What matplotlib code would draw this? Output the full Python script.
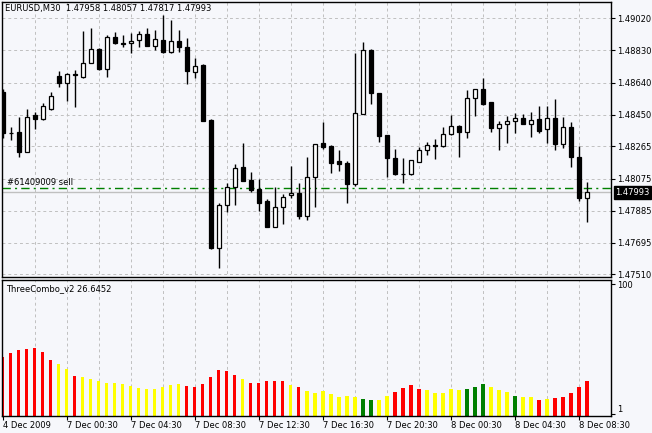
import matplotlib
matplotlib.use("Agg")
import matplotlib.pyplot as plt
import numpy as np

# EURUSD M30 candles
opens = [1.48588, 1.48345, 1.48351, 1.48233, 1.48450, 1.48424, 1.48485, 1.48678, 1.48641, 1.48689,
         1.48676, 1.48755, 1.48837, 1.48719, 1.48908, 1.48873, 1.48873, 1.48892, 1.48930, 1.48857,
         1.48892, 1.48821, 1.48884, 1.48849, 1.48705, 1.48745, 1.48420, 1.47663, 1.47919, 1.48027,
         1.48145, 1.48066, 1.48013, 1.47942, 1.47791, 1.47905, 1.47976, 1.47988, 1.47856, 1.48082,
         1.48283, 1.48267, 1.48178, 1.48165, 1.48041, 1.48454, 1.48833, 1.48578, 1.48331, 1.48194,
         1.48102, 1.48102, 1.48174, 1.48243, 1.48273, 1.48269, 1.48335, 1.48385, 1.48351, 1.48548,
         1.48602, 1.48525, 1.48371, 1.48395, 1.48414, 1.48430, 1.48395, 1.48426, 1.48365, 1.48430,
         1.48277, 1.48377, 1.48204, 1.47958]
highs = [1.48600, 1.48381, 1.48438, 1.48485, 1.48467, 1.48520, 1.48585, 1.48709, 1.48700, 1.48715,
         1.48947, 1.48963, 1.48842, 1.48924, 1.48942, 1.48922, 1.48933, 1.48945, 1.48960, 1.48951,
         1.49037, 1.49007, 1.48948, 1.48902, 1.48784, 1.48748, 1.48423, 1.47931, 1.48050, 1.48161,
         1.48283, 1.48112, 1.48072, 1.47952, 1.48027, 1.47982, 1.48151, 1.48047, 1.48204, 1.48279,
         1.48408, 1.48270, 1.48243, 1.48178, 1.48817, 1.48878, 1.48836, 1.48579, 1.48332, 1.48247,
         1.48194, 1.48187, 1.48258, 1.48292, 1.48308, 1.48379, 1.48450, 1.48388, 1.48597, 1.48603,
         1.48666, 1.48526, 1.48413, 1.48441, 1.48460, 1.48454, 1.48466, 1.48503, 1.48503, 1.48542,
         1.48436, 1.48410, 1.48267, 1.48057]
lows = [1.48314, 1.48302, 1.48202, 1.48231, 1.48367, 1.48420, 1.48479, 1.48613, 1.48535, 1.48494,
        1.48670, 1.48754, 1.48715, 1.48676, 1.48867, 1.48851, 1.48815, 1.48852, 1.48857, 1.48833,
        1.48814, 1.48815, 1.48823, 1.48633, 1.48670, 1.48414, 1.47659, 1.47546, 1.47879, 1.47919,
        1.48060, 1.47997, 1.47885, 1.47789, 1.47789, 1.47805, 1.47958, 1.47836, 1.47830, 1.47904,
        1.48249, 1.48108, 1.48119, 1.47932, 1.48033, 1.48453, 1.48513, 1.48293, 1.48086, 1.48096,
        1.48047, 1.48096, 1.48172, 1.48216, 1.48190, 1.48258, 1.48332, 1.48204, 1.48316, 1.48446,
        1.48509, 1.48351, 1.48243, 1.48283, 1.48344, 1.48394, 1.48322, 1.48346, 1.48283, 1.48243,
        1.48253, 1.48145, 1.47944, 1.47817]
closes = [1.48345, 1.48341, 1.48233, 1.48440, 1.48428, 1.48501, 1.48562, 1.48637, 1.48690, 1.48686,
          1.48755, 1.48837, 1.48719, 1.48908, 1.48877, 1.48871, 1.48888, 1.48927, 1.48858, 1.48896,
          1.48821, 1.48884, 1.48849, 1.48711, 1.48740, 1.48417, 1.47663, 1.47919, 1.48027, 1.48135,
          1.48062, 1.48007, 1.47932, 1.47791, 1.47905, 1.47968, 1.47990, 1.47856, 1.48082, 1.48277,
          1.48263, 1.48168, 1.48161, 1.48043, 1.48460, 1.48833, 1.48578, 1.48328, 1.48193, 1.48102,
          1.48100, 1.48182, 1.48243, 1.48272, 1.48265, 1.48336, 1.48385, 1.48351, 1.48548, 1.48601,
          1.48515, 1.48371, 1.48395, 1.48414, 1.48430, 1.48395, 1.48420, 1.48357, 1.48430, 1.48277,
          1.48377, 1.48204, 1.47958, 1.47993]

# ThreeCombo_v2 indicator
combo = [44.9, 47.4, 50.2, 51.0, 51.7, 48.7, 42.6, 39.6, 35.5, 30.4,
         29.1, 28.2, 26.4, 25.1, 25.1, 24.4, 22.3, 20.8, 20.0, 20.0,
         21.5, 23.1, 24.4, 22.8, 21.5, 24.4, 29.7, 35.0, 34.2, 31.2,
         27.6, 25.1, 25.1, 26.6, 26.6, 26.6, 23.6, 22.1, 19.0, 17.5,
         19.0, 16.7, 14.5, 15.2, 13.9, 12.9, 12.2, 12.2, 15.2, 18.3,
         21.3, 23.6, 20.5, 19.8, 17.5, 17.5, 20.5, 19.8, 20.5, 22.1,
         24.1, 22.1, 19.8, 18.3, 15.2, 13.9, 13.9, 12.2, 12.9, 13.7,
         14.5, 17.5, 22.1, 26.6452]
combo_state = list("RRRRRRRYYR" "YYYYYYYYYY" "YYYRRRRRRR"
                   "YRRRRRYRYY" "YYYYYGGYYR" "RRRYYYYYGG"
                   "GYYYGYYRYR" "RRRR")

price_ticks = [1.49020, 1.48830, 1.48640, 1.48450, 1.48265, 1.48075, 1.47885, 1.47695, 1.47510]
time_ticks = [0, 8, 16, 24, 32, 40, 48, 56, 64, 72]
time_labels = ["4 Dec 2009", "7 Dec 00:30", "7 Dec 04:30", "7 Dec 08:30", "7 Dec 12:30",
               "7 Dec 16:30", "7 Dec 20:30", "8 Dec 00:30", "8 Dec 04:30", "8 Dec 08:30"]
order_price = 1.48017
last_price = 1.47993

bg = "#F6F7FB"
grid_c = "#C0C0C0"
state_colors = {"R": "#FF0000", "Y": "#FFFF00", "G": "#007F00"}

plt.rcParams["font.family"] = "DejaVu Sans"
plt.rcParams["font.size"] = 6

W, H = 652, 433
fig = plt.figure(figsize=(W / 100, H / 100), dpi=100, facecolor=bg)

def box(l, t, r, b):
    return [l / W, 1 - b / H, (r - l) / W, (b - t) / H]

ax = fig.add_axes(box(2, 2, 611, 276.5), facecolor=bg)
ax2 = fig.add_axes(box(2, 279.5, 611, 415.7), facecolor=bg)

x = np.arange(len(opens))
o = np.array(opens)
c = np.array(closes)
grid_x = np.arange(4, len(x), 4)

# main price panel
for t in price_ticks:
    ax.axhline(t, color=grid_c, lw=0.7, ls=(0, (3, 3)), zorder=0)
ax.vlines(grid_x, 1.47, 1.50, color=grid_c, lw=0.7, ls=(0, (3, 3)), zorder=0)
ax.axhline(last_price, color=grid_c, lw=1, zorder=1)
ax.axhline(order_price, color="#008000", lw=1, ls=(0, (6, 3, 1.5, 3)), zorder=1)

ax.vlines(x, lows, highs, color="black", lw=1, zorder=3)
face = ["white" if cc > oo else "black" for oo, cc in zip(o, c)]
ax.bar(x, np.abs(c - o), bottom=np.minimum(o, c), width=0.5, color=face,
       edgecolor="black", linewidth=0.9, zorder=4)

ax.set_xlim(-0.1, 76.0)
ax.set_ylim(1.47497, 1.49116)
ax.yaxis.tick_right()
ax.set_yticks(price_ticks)
ax.set_yticklabels(["%.5f" % t for t in price_ticks])
ax.tick_params(axis="y", direction="out", length=3, width=0.8, pad=1.5, labelsize=6)
ax.tick_params(axis="x", bottom=False, labelbottom=False)
ax.annotate("%.5f" % last_price, xy=(1, last_price), xycoords=("axes fraction", "data"),
            xytext=(3, 0), textcoords="offset points", ha="left", va="center",
            color="white", fontsize=6,
            bbox=dict(boxstyle="square,pad=0.2", fc="black", ec="black"))

fig.text(5 / W, 1 - 8 / H, "EURUSD,M30  1.47958 1.48057 1.47817 1.47993",
         ha="left", va="center", fontsize=6)
fig.text(7 / W, 1 - 183 / H, "#61409009 sell", ha="left", va="center", fontsize=6)

# indicator panel
ax2.vlines(grid_x, 0, 110, color=grid_c, lw=0.7, ls=(0, (3, 3)), zorder=0)
ax2.bar(x, combo, width=0.4, color=[state_colors[s] for s in combo_state], zorder=2)
ax2.set_xlim(-0.1, 76.0)
ax2.set_ylim(0, 103.7)
ax2.yaxis.tick_right()
ax2.set_yticks([1, 100])
ax2.set_yticklabels(["1", "100"])
ax2.get_yticklabels()[0].set_va("bottom")
ax2.tick_params(axis="y", direction="out", length=3, width=0.8, pad=1.5, labelsize=6)
ax2.set_xticks(time_ticks)
ax2.set_xticklabels(time_labels, ha="left")
ax2.tick_params(axis="x", direction="out", length=3, width=0.8, pad=1, labelsize=6)
fig.text(6 / W, 1 - 288.5 / H, "ThreeCombo_v2 26.6452", ha="left", va="center", fontsize=6)

for a in (ax, ax2):
    for s in a.spines.values():
        s.set_color("black")
        s.set_linewidth(1)

plt.savefig("out.png", dpi=100, facecolor=bg)
